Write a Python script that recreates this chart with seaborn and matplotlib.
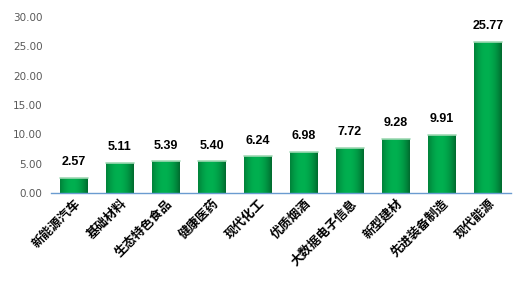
import matplotlib
matplotlib.use("Agg")
import matplotlib.pyplot as plt
import seaborn as sns
import pandas as pd
import numpy as np
from matplotlib.colors import LinearSegmentedColormap
import matplotlib.transforms as mtransforms

categories = ["新能源汽车", "基础材料", "生态特色食品", "健康医药", "现代化工",
              "优质烟酒", "大数据电子信息", "新型建材", "先进装备制造", "现代能源"]
values = [2.57, 5.11, 5.39, 5.40, 6.24, 6.98, 7.72, 9.28, 9.91, 25.77]
yticks = [0, 5, 10, 15, 20, 25, 30]

sns.set_theme(style="white")
plt.rcParams['font.family'] = ['Noto Sans CJK SC', 'DejaVu Sans']

df = pd.DataFrame({"cat": categories, "val": values})
fig = plt.figure(figsize=(5.32, 2.85), dpi=100)
ax = fig.add_axes([51/532, 1-193/285, 460/532, 176/285])
sns.barplot(data=df, x="cat", y="val", color="#00B050", width=0.6, ax=ax,
            saturation=1, edgecolor="none")

# gradient shading for bars
grad = np.linspace(0, 1, 64)
shade = np.clip(np.abs(grad - 0.45) / 0.55, 0, 1) ** 2
cmap = LinearSegmentedColormap.from_list("g", ["#00B050", "#006b2e"])
for p in ax.patches:
    x0, y0 = p.get_x(), p.get_y()
    w, h = p.get_width(), p.get_height()
    im = ax.imshow(shade[None, :], cmap=cmap, vmin=0, vmax=1, aspect="auto",
                   extent=[x0, x0 + w, y0, y0 + h], zorder=p.get_zorder() + 0.1,
                   interpolation="bilinear")
    im.set_clip_path(p)
    ax.plot([x0, x0 + w], [y0 + h, y0 + h], color="#9fd9b4", lw=1.2, zorder=3)

for i, v in enumerate(values):
    ax.annotate(f"{v:.2f}", (i, v), xytext=(0, 7), textcoords="offset points",
                ha="center", va="bottom", fontsize=9, fontweight="bold",
                color="black", family=["Liberation Sans"])

ax.set_xlim(-0.5, len(categories) - 0.5)
ax.set_ylim(0, 30)
ax.set_yticks(yticks)
ax.set_yticklabels([f"{t:.2f}" for t in yticks], color="#595959", fontsize=7.5,
                   family=["DejaVu Sans"])
ax.set_xticks(np.arange(len(categories)))
ax.set_xticklabels(categories, rotation=45, ha="right", va="top",
                   rotation_mode="anchor", fontsize=9, fontweight="bold", color="black")
offset = mtransforms.ScaledTranslation(3/100, -8/100, fig.dpi_scale_trans)
for lab in ax.get_xticklabels():
    lab.set_transform(lab.get_transform() + offset)
ax.set_xlabel("")
ax.set_ylabel("")
for s in ["top", "right", "left"]:
    ax.spines[s].set_visible(False)
ax.spines["bottom"].set_color("#6a9bd0")
ax.spines["bottom"].set_linewidth(1.0)
ax.set_xticks(np.arange(len(categories) + 1) - 0.5, minor=True)
ax.tick_params(axis="x", which="minor", direction="out", length=5, color="#6a9bd0", width=1)
ax.tick_params(axis="x", which="major", length=0, pad=3)
ax.tick_params(axis="y", length=0, pad=6)
ax.grid(False)

fig.savefig("out.png", dpi=100)
